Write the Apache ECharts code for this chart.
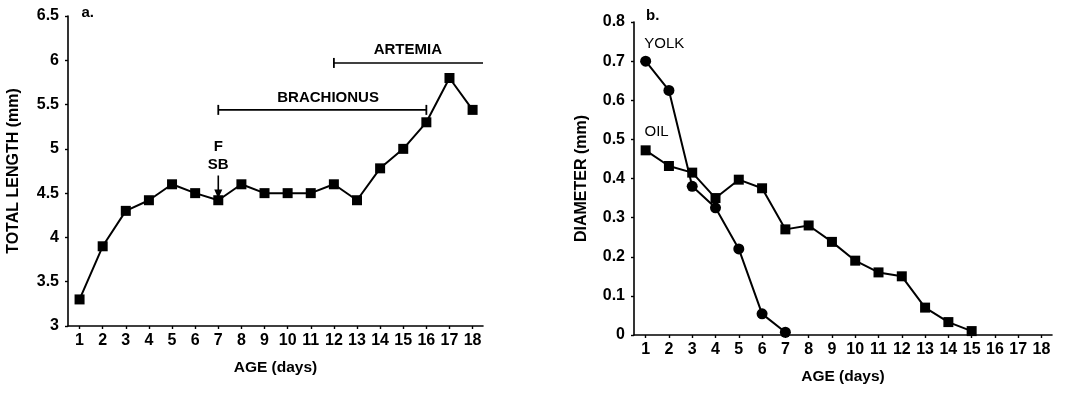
<!DOCTYPE html>
<html><head><meta charset="utf-8">
<script src="https://cdn.jsdelivr.net/npm/echarts@6/dist/echarts.min.js"></script>
<style>html,body{margin:0;padding:0;background:#fff}#c{width:1075px;height:393px}</style>
</head><body><div id="c"></div>
<script>
var days = [1,2,3,4,5,6,7,8,9,10,11,12,13,14,15,16,17,18];
var totalLength = [3.3,3.9,4.3,4.42,4.6,4.5,4.42,4.6,4.5,4.5,4.5,4.6,4.42,4.78,5.0,5.3,5.8,5.44];
var yolkDays = [1,2,3,4,5,6,7];
var yolk = [0.70,0.625,0.38,0.325,0.22,0.054,0.007];
var oilDays = [1,2,3,4,5,6,7,8,9,10,11,12,13,14,15];
var oil = [0.472,0.432,0.415,0.35,0.397,0.375,0.27,0.28,0.238,0.19,0.16,0.15,0.07,0.033,0.01];
var brachionus = [[7,5.44],[16,5.44]];
var artemia = [[12,5.97],[18.45,5.97]];
var leftYTicks = [3,3.5,4,4.5,5,5.5,6,6.5];
var rightYTicks = [0,0.1,0.2,0.3,0.4,0.5,0.6,0.7,0.8];

var FONT = '"Liberation Sans", Arial, sans-serif';
function pairs(xs, ys){ return xs.map(function(x,i){ return [x, ys[i]]; }); }
function xAxis(gi){
  return {
    type:'value', gridIndex:gi, min:0.5, max:18.45,
    name:'AGE (days)', nameLocation:'middle', nameGap:34,
    nameTextStyle:{color:'#000', fontSize:15.5, fontFamily:FONT, fontWeight:'bold'},
    axisLine:{show:true, lineStyle:{color:'#000', width:1.6}},
    axisTick:{show:true, length:3, lineStyle:{color:'#000', width:1.4}, customValues:days},
    axisLabel:{color:'#000', fontSize:16, fontFamily:FONT, fontWeight:'bold', margin:7, customValues:days},
    splitLine:{show:false}
  };
}
function yAxis(gi, min, max, interval, name, gap){
  return {
    type:'value', gridIndex:gi, min:min, max:max, interval:interval,
    name:name, nameLocation:'middle', nameGap:gap, nameRotate:90,
    nameTextStyle:{color:'#000', fontSize:16, fontFamily:FONT, fontWeight:'bold'},
    axisLine:{show:true, lineStyle:{color:'#000', width:1.6}},
    axisTick:{show:true, length:3, lineStyle:{color:'#000', width:1.4}},
    axisLabel:{color:'#000', fontSize:16, fontFamily:FONT, fontWeight:'bold', margin:9},
    splitLine:{show:false}
  };
}
function textPoint(gi, pt, text, extra){
  return {
    type:'scatter', xAxisIndex:gi, yAxisIndex:gi, symbolSize:0, silent:true, z:5, clip:false,
    data:[pt], itemStyle:{opacity:1, color:'#000'},
    label:Object.assign({show:true, position:'inside', formatter:text, color:'#000', opacity:1,
      fontSize:15, fontFamily:FONT, fontWeight:'bold', lineHeight:18}, extra||{})
  };
}
var lineStyle = {color:'#000', width:2};
var option = {
  animation:false,
  grid:[
    {left:68, right:592, top:16, bottom:67},
    {left:634, right:23, top:22, bottom:58}
  ],
  xAxis:[xAxis(0), xAxis(1)],
  yAxis:[
    yAxis(0, leftYTicks[0], leftYTicks[leftYTicks.length-1], 0.5, 'TOTAL LENGTH (mm)', 46),
    yAxis(1, rightYTicks[0], rightYTicks[rightYTicks.length-1], 0.1, 'DIAMETER (mm)', 44)
  ],
  series:[
    {type:'line', xAxisIndex:0, yAxisIndex:0, data:pairs(days,totalLength),
     symbol:'rect', symbolSize:10, itemStyle:{color:'#000'}, lineStyle:lineStyle, z:3},
    {type:'line', xAxisIndex:1, yAxisIndex:1, data:pairs(yolkDays,yolk),
     symbol:'circle', symbolSize:11, itemStyle:{color:'#000'}, lineStyle:lineStyle, z:3},
    {type:'line', xAxisIndex:1, yAxisIndex:1, data:pairs(oilDays,oil),
     symbol:'rect', symbolSize:10, itemStyle:{color:'#000'}, lineStyle:lineStyle, z:3},
    {type:'line', xAxisIndex:0, yAxisIndex:0, data:brachionus, symbol:'none', lineStyle:{color:'#000', width:1.6}, silent:true},
    {type:'line', xAxisIndex:0, yAxisIndex:0, data:artemia, symbol:'none', lineStyle:{color:'#000', width:1.6}, silent:true},
    {type:'scatter', xAxisIndex:0, yAxisIndex:0, data:[brachionus[0], brachionus[1], artemia[0]],
     symbol:'rect', symbolSize:[1.8,10], itemStyle:{color:'#000', opacity:1}, silent:true},
    {type:'line', xAxisIndex:0, yAxisIndex:0, silent:true, z:4,
     data:[{value:[7,4.70], symbol:'none'}, {value:[7,4.49], symbol:'triangle', symbolSize:[8,9], symbolRotate:180}],
     lineStyle:{color:'#000', width:1.6}, itemStyle:{color:'#000'}},
    textPoint(0, [7,4.92], 'F\nSB'),
    textPoint(0, [11.75,5.58], 'BRACHIONUS'),
    textPoint(0, [15.2,6.12], 'ARTEMIA'),
    textPoint(0, [1.35,6.54], 'a.'),
    textPoint(1, [1.3,0.815], 'b.'),
    textPoint(1, [1.8,0.745], 'YOLK', {fontWeight:'normal'}),
    textPoint(1, [1.47,0.52], 'OIL', {fontWeight:'normal'})
  ]
};
var chart = echarts.init(document.getElementById('c'), null, {renderer:'canvas'});
chart.setOption(option);
</script></body></html>
